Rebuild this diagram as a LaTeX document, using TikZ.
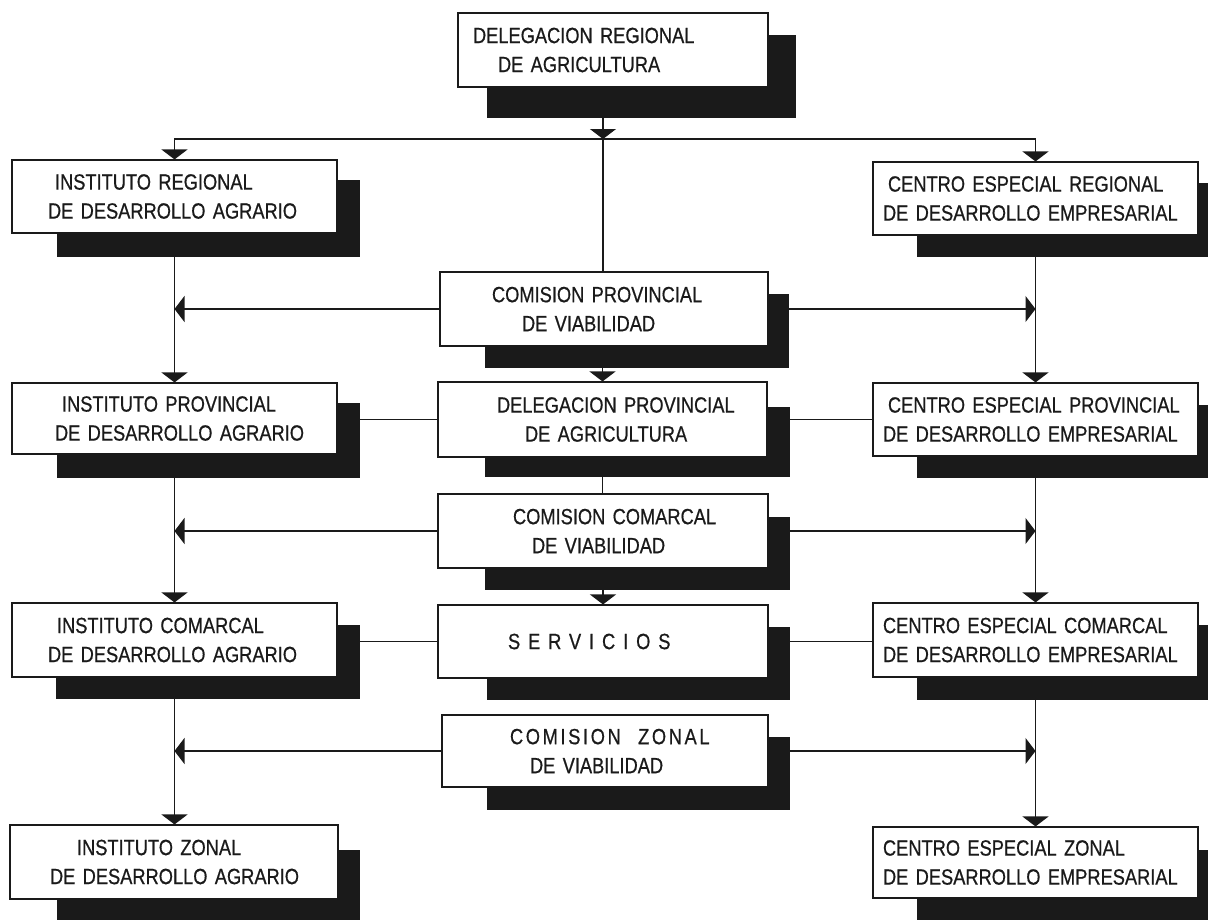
\documentclass[tikz,border=0pt]{standalone}
\usepackage{fontspec}
\setmainfont{Liberation Sans}[FakeStretch=0.83, WordSpace=2, FakeBold=0.6]
\usetikzlibrary{arrows.meta}
\definecolor{ink}{HTML}{1A1A1A}
\begin{document}
\begin{tikzpicture}[x=1pt,y=-1pt,
  ob/.style={draw=ink, fill=white, line width=1.1pt, align=left, inner ysep=0pt,
    font=\fontsize{22}{29}\selectfont, text=ink},
  sh/.style={fill=ink, draw=none, inner sep=0pt},
  conn/.style={draw=ink, line width=1.2pt},
  arr/.style={conn, -{Triangle[width=26pt,length=10pt]}},
]
\useasboundingbox (0,0) rectangle (1208,919);
\clip (0,0) rectangle (1208,919);

% shadows
\node[sh, minimum width=309pt, minimum height=83pt] (m0s) at (641.5,76.5) {};
\node[sh, minimum width=303pt, minimum height=77pt] (l1s) at (208.5,218.5) {};
\node[sh, minimum width=303pt, minimum height=74pt] (r1s) at (1068.5,220) {};
\node[sh, minimum width=304pt, minimum height=74pt] (m1s) at (637,331) {};
\node[sh, minimum width=303pt, minimum height=75pt] (l2s) at (208.5,440.5) {};
\node[sh, minimum width=305pt, minimum height=70pt] (m2s) at (637.5,442) {};
\node[sh, minimum width=303pt, minimum height=73pt] (r2s) at (1068.5,441.5) {};
\node[sh, minimum width=305pt, minimum height=73pt] (m3s) at (637.5,553.5) {};
\node[sh, minimum width=304pt, minimum height=74pt] (l3s) at (208,662) {};
\node[sh, minimum width=303pt, minimum height=73pt] (m4s) at (638.5,663.5) {};
\node[sh, minimum width=303pt, minimum height=75pt] (r3s) at (1068.5,662.5) {};
\node[sh, minimum width=303pt, minimum height=73pt] (m5s) at (638.5,773.5) {};
\node[sh, minimum width=303pt, minimum height=80pt] (l4s) at (208.5,890) {};
\node[sh, minimum width=303pt, minimum height=80pt] (r4s) at (1068.5,890) {};

% boxes
\node[ob, minimum width=310pt, minimum height=74pt, text width=280pt, inner xsep=15pt] (m0) at (613,50)
  {\mbox{DELEGACION REGIONAL}\\\mbox{\hspace*{25pt}DE AGRICULTURA}};
\node[ob, minimum width=325pt, minimum height=73pt, text width=253pt, inner xsep=36pt] (l1) at (174.5,196.5)
  {\mbox{\hspace*{7pt}INSTITUTO REGIONAL}\\\mbox{DE DESARROLLO AGRARIO}};
\node[ob, minimum width=325pt, minimum height=73pt, text width=305pt, inner xsep=10pt] (r1) at (1035.5,198.5)
  {\mbox{\hspace*{5pt}CENTRO ESPECIAL REGIONAL}\\\mbox{DE DESARROLLO EMPRESARIAL}};
\node[ob, minimum width=328pt, minimum height=74pt, text width=224pt, inner xsep=52pt] (m1) at (604,309)
  {\mbox{COMISION PROVINCIAL}\\\mbox{\hspace*{30pt}DE VIABILIDAD}};
\node[ob, minimum width=325pt, minimum height=71pt, text width=239pt, inner xsep=43pt] (l2) at (174.5,418.5)
  {\mbox{\hspace*{7pt}INSTITUTO PROVINCIAL}\\\mbox{DE DESARROLLO AGRARIO}};
\node[ob, minimum width=329pt, minimum height=75pt, text width=211pt, inner xsep=59pt] (m2) at (602.5,419.5)
  {\mbox{DELEGACION PROVINCIAL}\\\mbox{\hspace*{28pt}DE AGRICULTURA}};
\node[ob, minimum width=325pt, minimum height=73pt, text width=305pt, inner xsep=10pt] (r2) at (1035.5,419.5)
  {\mbox{\hspace*{5pt}CENTRO ESPECIAL PROVINCIAL}\\\mbox{DE DESARROLLO EMPRESARIAL}};
\node[ob, minimum width=330pt, minimum height=74pt, text width=180pt, inner xsep=75pt] (m3) at (603,531)
  {\mbox{COMISION COMARCAL}\\\mbox{\hspace*{19pt}DE VIABILIDAD}};
\node[ob, minimum width=325pt, minimum height=74pt, text width=253pt, inner xsep=36pt] (l3) at (174.5,640)
  {\mbox{\hspace*{9pt}INSTITUTO COMARCAL}\\\mbox{DE DESARROLLO AGRARIO}};
\node[ob, minimum width=330pt, minimum height=73pt, text width=190pt, inner xsep=70pt] (m4) at (603,641.5)
  {\mbox{\addfontfeature{LetterSpace=36}SERVICIOS}};
\node[ob, minimum width=325pt, minimum height=74pt, text width=305pt, inner xsep=10pt] (r3) at (1035.5,640)
  {\mbox{CENTRO ESPECIAL COMARCAL}\\\mbox{DE DESARROLLO EMPRESARIAL}};
\node[ob, minimum width=326pt, minimum height=72pt, text width=190pt, inner xsep=68pt] (m5) at (605,751)
  {\mbox{\addfontfeature{LetterSpace=12}COMISION\hspace{10pt} ZONAL}\\\mbox{\hspace*{20pt}DE VIABILIDAD}};
\node[ob, minimum width=328pt, minimum height=74pt, text width=248pt, inner xsep=40pt] (l4) at (174,862)
  {\mbox{\hspace*{27pt}INSTITUTO ZONAL}\\\mbox{DE DESARROLLO AGRARIO}};
\node[ob, minimum width=325pt, minimum height=71pt, text width=305pt, inner xsep=10pt] (r4) at (1035.5,862.5)
  {\mbox{CENTRO ESPECIAL ZONAL}\\\mbox{DE DESARROLLO EMPRESARIAL}};

% connectors
\coordinate (j0) at (603,139);
\draw[arr] (m0s.south -| j0) -- (j0);
\draw[arr] (j0) -| (l1.north);
\draw[arr] (j0) -| (r1.north);
\draw[conn] (j0) -- (m1.north -| j0);

\draw[arr] (m1.west) -- (m1.west -| l1.center);
\draw[arr] (m1s.east |- m1.center) -- (m1.center -| r1.center);
\draw[arr] (l1.center |- l1s.south) -- (l2.north);
\draw[arr] (r1.center |- r1s.south) -- (r2.north);
\draw[arr] (m1s.south -| m2.north) -- (m2.north);

\draw[conn] (l2s.east |- m2.west) -- (m2.west);
\draw[conn] (m2s.east |- m2.east) -- (r2.west |- m2.east);
\draw[conn] (m2s.south -| m2.north) -- (m3.north -| m2.north);

\draw[arr] (m3.west) -- (m3.west -| l1.center);
\draw[arr] (m3s.east |- m3.east) -- (m3.east -| r1.center);
\draw[arr] (l2.center |- l2s.south) -- (l3.north);
\draw[arr] (r2.center |- r2s.south) -- (r3.north);
\draw[arr] (m3s.south -| m4.north) -- (m4.north);

\draw[conn] (l3s.east |- m4.west) -- (m4.west);
\draw[conn] (m4s.east |- m4.east) -- (r3.west |- m4.east);

\draw[arr] (l3.center |- l3s.south) -- (l3.center |- l4.north);
\draw[arr] (r3.center |- r3s.south) -- (r3.center |- r4.north);
\draw[arr] (m5.west) -- (m5.west -| l1.center);
\draw[arr] (m5s.east |- m5.east) -- (m5.east -| r1.center);
\end{tikzpicture}
\end{document}
